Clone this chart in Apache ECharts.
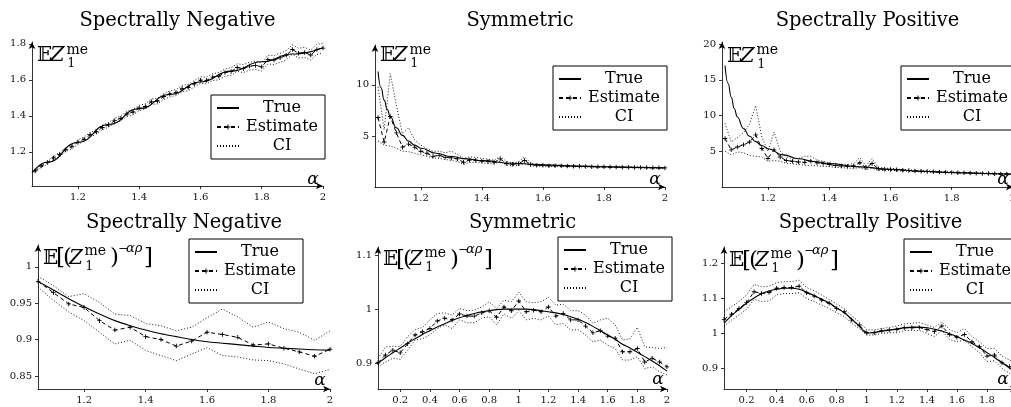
<!DOCTYPE html>
<html>
<head>
<meta charset="utf-8">
<script src="https://cdn.jsdelivr.net/npm/echarts@6.0.0/dist/echarts.min.js"></script>
<style>
html,body{margin:0;padding:0;background:#fff;}
#chart{width:1011px;height:407px;}
</style>
</head>
<body>
<div id="chart"></div>
<script>
// ---------------- data ----------------
const titles = ['Spectrally Negative', 'Symmetric', 'Spectrally Positive'];
const legendNames = ['True', 'Estimate', 'CI'];

// top row alpha grid (estimates / CI)
const alphaTop = [1.06,1.08,1.10,1.12,1.14,1.16,1.18,1.20,1.22,1.24,1.26,1.28,1.30,1.32,1.34,1.36,1.38,1.40,1.42,1.44,1.46,1.48,1.50,1.52,1.54,1.56,1.58,1.60,1.62,1.64,1.66,1.68,1.70,1.72,1.74,1.76,1.78,1.80,1.82,1.84,1.86,1.88,1.90,1.92,1.94,1.96,1.98,2.00];

// Panel 1: E Z, spectrally negative
const p1TrueAlpha = [1.05,1.1,1.2,1.3,1.4,1.5,1.6,1.7,1.8,1.9,2.0];
const p1True = [1.083,1.142,1.252,1.352,1.440,1.518,1.588,1.648,1.700,1.743,1.778];
const p1Est = [1.093,1.121,1.140,1.166,1.185,1.211,1.229,1.254,1.270,1.295,1.311,1.335,1.350,1.373,1.386,1.410,1.421,1.443,1.452,1.478,1.482,1.507,1.522,1.529,1.551,1.557,1.578,1.598,1.597,1.615,1.620,1.640,1.646,1.668,1.662,1.676,1.680,1.672,1.712,1.710,1.722,1.736,1.768,1.748,1.752,1.738,1.769,1.776];
const p1Hi = [1.100,1.128,1.149,1.175,1.196,1.222,1.240,1.266,1.282,1.307,1.324,1.348,1.363,1.386,1.400,1.424,1.436,1.458,1.467,1.493,1.498,1.523,1.538,1.546,1.568,1.575,1.596,1.616,1.616,1.634,1.640,1.660,1.667,1.689,1.684,1.698,1.703,1.696,1.736,1.735,1.747,1.762,1.794,1.775,1.780,1.766,1.797,1.804];
const p1Lo = [1.086,1.114,1.131,1.157,1.174,1.200,1.218,1.242,1.258,1.283,1.298,1.322,1.337,1.360,1.372,1.396,1.406,1.428,1.437,1.463,1.466,1.491,1.506,1.512,1.534,1.539,1.560,1.580,1.578,1.596,1.600,1.620,1.625,1.647,1.640,1.654,1.657,1.648,1.688,1.685,1.697,1.710,1.742,1.721,1.724,1.710,1.741,1.748];

// Panel 2: E Z, symmetric
const p2TrueAlpha = [1.06,1.07,1.08,1.09,1.10,1.12,1.14,1.16,1.18,1.20,1.25,1.30,1.35,1.40,1.50,1.60,1.70,1.80,1.90,2.00];
const p2True = [11.3,9.7,8.5,7.6,6.9,5.8,5.05,4.5,4.1,3.8,3.3,2.98,2.75,2.58,2.33,2.17,2.06,1.98,1.92,1.87];
const p2Est = [6.8,4.4,6.9,5.3,3.9,4.2,3.9,3.5,3.3,3.0,3.1,2.9,2.85,2.75,2.42,2.65,2.62,2.55,2.5,2.42,2.75,2.3,2.22,2.28,2.6,2.2,2.12,2.12,2.08,2.07,2.07,2.05,2.04,2.02,2.01,1.99,1.98,1.97,1.96,1.95,1.94,1.93,1.92,1.91,1.9,1.89,1.88,1.87];
const p2Hi = [9.8,5.6,11.1,8.0,5.2,5.8,4.6,4.1,3.75,3.5,3.5,3.35,3.5,3.2,2.8,2.95,2.9,2.8,2.72,2.62,3.0,2.5,2.38,2.45,2.95,2.35,2.22,2.2,2.16,2.14,2.13,2.11,2.09,2.07,2.06,2.04,2.03,2.02,2.0,1.99,1.98,1.97,1.96,1.95,1.94,1.93,1.92,1.91];
const p2Lo = [4.5,4.1,4.0,3.8,3.5,3.45,3.3,3.15,3.0,2.85,2.8,2.7,2.6,2.5,2.2,2.4,2.42,2.35,2.3,2.25,2.5,2.15,2.08,2.12,2.3,2.06,2.02,2.04,2.0,2.0,2.0,1.99,1.98,1.97,1.96,1.94,1.93,1.92,1.91,1.9,1.89,1.88,1.87,1.86,1.86,1.85,1.84,1.83];

// Panel 3: E Z, spectrally positive
const p3TrueAlpha = [1.06,1.07,1.08,1.09,1.10,1.12,1.14,1.16,1.18,1.20,1.25,1.30,1.35,1.40,1.50,1.60,1.70,1.80,1.90,2.00];
const p3True = [17.0,14.5,12.6,11.0,9.8,8.2,7.1,6.35,5.8,5.35,4.5,3.95,3.58,3.28,2.82,2.47,2.2,2.02,1.9,1.78];
const p3Est = [6.8,5.2,5.6,5.9,6.3,7.3,5.4,4.0,5.2,4.2,3.7,3.6,3.5,3.45,3.6,3.4,3.3,3.15,3.0,2.95,2.9,2.95,3.4,2.7,3.3,2.55,2.5,2.45,2.4,2.35,2.3,2.25,2.2,2.17,2.14,2.1,2.07,2.04,2.0,1.98,1.96,1.93,1.9,1.88,1.85,1.83,1.81,1.78];
const p3Hi = [8.9,6.3,6.9,7.6,8.8,11.4,7.0,5.0,7.7,5.0,4.2,4.0,4.0,4.3,4.3,3.8,3.6,3.4,3.25,3.15,3.1,3.3,4.1,2.95,4.0,2.75,2.65,2.6,2.52,2.45,2.4,2.35,2.3,2.26,2.22,2.18,2.15,2.12,2.08,2.05,2.03,2.0,1.97,1.95,1.92,1.9,1.88,1.85];
const p3Lo = [5.0,4.5,4.9,4.8,4.4,4.3,4.2,3.6,3.7,3.6,3.3,3.25,3.15,3.05,3.05,2.95,2.9,2.85,2.75,2.7,2.65,2.6,2.7,2.45,2.6,2.35,2.33,2.3,2.27,2.23,2.2,2.15,2.12,2.08,2.05,2.02,2.0,1.97,1.94,1.92,1.9,1.88,1.85,1.83,1.8,1.78,1.76,1.73];

// Panel 4: E[(Z)^-alpha rho], spectrally negative
const alphaB1 = [1.05,1.10,1.15,1.20,1.25,1.30,1.35,1.40,1.45,1.50,1.55,1.60,1.65,1.70,1.75,1.80,1.85,1.90,1.95,2.00];
const p4True = [0.980,0.968,0.956,0.945,0.935,0.926,0.919,0.913,0.908,0.904,0.900,0.897,0.895,0.893,0.891,0.889,0.888,0.887,0.886,0.8855];
const p4Est = [0.980,0.9645,0.949,0.944,0.926,0.913,0.917,0.904,0.900,0.891,0.898,0.910,0.907,0.903,0.8925,0.894,0.888,0.883,0.877,0.8866];
const p4Hi = [0.987,0.974,0.959,0.963,0.951,0.935,0.933,0.922,0.919,0.912,0.917,0.930,0.942,0.931,0.917,0.924,0.915,0.910,0.899,0.912];
const p4Lo = [0.972,0.954,0.938,0.926,0.910,0.894,0.899,0.885,0.878,0.871,0.880,0.889,0.878,0.876,0.872,0.871,0.8665,0.8595,0.853,0.859];

// Panels 5, 6 alpha grid
const alphaB2 = [0.05,0.10,0.15,0.20,0.25,0.30,0.35,0.40,0.45,0.50,0.55,0.60,0.65,0.70,0.75,0.80,0.85,0.90,0.95,1.00,1.05,1.10,1.15,1.20,1.25,1.30,1.35,1.40,1.45,1.50,1.55,1.60,1.65,1.70,1.75,1.80,1.85,1.90,1.95,2.00];

// Panel 5: symmetric
const p5True = [0.900,0.910,0.919,0.928,0.937,0.945,0.953,0.960,0.967,0.973,0.979,0.984,0.988,0.992,0.995,0.997,0.999,1.000,1.000,1.000,1.000,0.999,0.997,0.995,0.993,0.990,0.986,0.981,0.975,0.968,0.960,0.952,0.944,0.935,0.928,0.920,0.912,0.904,0.895,0.885];
const p5Est = [0.9006,0.915,0.924,0.919,0.936,0.952,0.958,0.964,0.978,0.983,0.980,0.991,0.987,0.987,0.993,0.997,0.985,1.004,0.997,1.015,0.995,0.998,0.995,1.004,0.987,0.992,0.980,0.980,0.9685,0.956,0.960,0.950,0.946,0.921,0.921,0.927,0.902,0.909,0.902,0.893];
const p5Hi = [0.908,0.930,0.931,0.931,0.949,0.962,0.966,0.980,0.992,0.993,0.989,1.001,0.997,0.998,1.004,1.0135,1.001,1.0167,1.0135,1.031,1.0135,1.0117,1.0135,1.0216,1.0074,1.009,0.997,0.997,0.989,0.9735,0.980,0.983,0.971,0.9426,0.945,0.966,0.930,0.929,0.927,0.929];
const p5Lo = [0.893,0.902,0.909,0.907,0.924,0.9426,0.945,0.952,0.964,0.971,0.964,0.980,0.9747,0.9747,0.983,0.986,0.971,0.991,0.983,0.997,0.980,0.983,0.980,0.987,0.971,0.9735,0.961,0.962,0.952,0.9395,0.9426,0.933,0.927,0.9056,0.9056,0.912,0.890,0.893,0.884,0.878];

// Panel 6: spectrally positive
const p6True = [1.028,1.050,1.068,1.085,1.100,1.112,1.120,1.125,1.128,1.128,1.125,1.117,1.107,1.097,1.086,1.072,1.058,1.040,1.020,1.000,1.002,1.005,1.008,1.012,1.015,1.017,1.017,1.015,1.011,1.006,0.998,0.990,0.980,0.970,0.958,0.944,0.930,0.915,0.900,0.885];
const p6Est = [1.039,1.054,1.070,1.087,1.118,1.113,1.116,1.128,1.130,1.130,1.134,1.115,1.106,1.094,1.085,1.070,1.061,1.037,1.023,1.001,1.001,1.007,1.009,1.010,1.015,1.015,1.016,1.010,1.004,1.020,0.996,0.988,0.996,0.975,0.961,0.934,0.937,0.915,0.904,0.890];
const p6Hi = [1.061,1.075,1.090,1.109,1.139,1.132,1.134,1.144,1.147,1.147,1.151,1.130,1.121,1.109,1.096,1.083,1.070,1.049,1.032,1.009,1.009,1.013,1.016,1.020,1.026,1.028,1.030,1.023,1.016,1.032,1.010,1.001,1.013,0.990,0.975,0.956,0.956,0.934,0.923,0.910];
const p6Lo = [1.020,1.037,1.051,1.068,1.096,1.090,1.092,1.109,1.113,1.113,1.115,1.099,1.090,1.080,1.070,1.058,1.047,1.028,1.013,0.994,0.994,0.999,1.001,1.001,1.007,1.007,1.007,0.999,0.990,1.007,0.982,0.975,0.980,0.961,0.944,0.918,0.921,0.899,0.885,0.870];

// tick values
const xTicksA = [1.2,1.4,1.6,1.8,2];
const xTicksB = [0.2,0.4,0.6,0.8,1,1.2,1.4,1.6,1.8,2];
const yTicks1 = [1.2,1.4,1.6,1.8];
const yTicks2 = [5,10];
const yTicks3 = [5,10,15,20];
const yTicks4 = [0.85,0.9,0.95,1];
const yTicks5 = [0.9,1,1.1];
const yTicks6 = [0.9,1,1.1,1.2];

// ---------------- layout ----------------
const SERIF = 'DejaVu Serif';
const panels = [
  {title:titles[0], grid:{left:32,top:42,width:291,height:144}, x:[1.05,2], y:[1.01,1.81], xt:xTicksA, yt:yTicks1,
   tA:p1TrueAlpha, tV:p1True, eA:alphaTop, est:p1Est, hi:p1Hi, lo:p1Lo, legend:[211,95], titleY:10.5, row:0, smooth:true},
  {title:titles[1], grid:{left:375,top:45,width:290,height:142}, x:[1.05,2], y:[0,13.9], xt:xTicksA, yt:yTicks2,
   tA:p2TrueAlpha, tV:p2True, eA:alphaTop, est:p2Est, hi:p2Hi, lo:p2Lo, legend:[553,66], titleY:10.5, row:0, smooth:true},
  {title:titles[2], grid:{left:722,top:42,width:291,height:145}, x:[1.05,2], y:[0,20.3], xt:xTicksA, yt:yTicks3,
   tA:p3TrueAlpha, tV:p3True, eA:alphaTop, est:p3Est, hi:p3Hi, lo:p3Lo, legend:[901,66], titleY:10.5, row:0, smooth:true},
  {title:titles[0], grid:{left:38,top:245,width:292,height:144}, x:[1.05,2], y:[0.832,1.03], xt:xTicksA, yt:yTicks4,
   tA:alphaB1, tV:p4True, eA:alphaB1, est:p4Est, hi:p4Hi, lo:p4Lo, legend:[189,239], titleY:212.5, row:1, smooth:0.3},
  {title:titles[1], grid:{left:378,top:247,width:289,height:142}, x:[0.05,2], y:[0.852,1.115], xt:xTicksB, yt:yTicks5,
   tA:alphaB2, tV:p5True, eA:alphaB2, est:p5Est, hi:p5Hi, lo:p5Lo, legend:[558,237], titleY:212.5, row:1, smooth:0.3},
  {title:titles[2], grid:{left:724,top:247,width:293,height:142}, x:[0.05,2], y:[0.84,1.246], xt:xTicksB, yt:yTicks6,
   tA:alphaB2, tV:p6True, eA:alphaB2, est:p6Est, hi:p6Hi, lo:p6Lo, legend:[904,239], titleY:212.5, row:1, smooth:0.3}
];
const labelY = [56, 56, 56.5, 258.5, 260, 261];
const alphaPos = [[313,180],[655,180],[1003,180],[320,381],[658,380],[1003,380]];

const zip = (a, b) => a.map((v, i) => [v, b[i]]);
const PLUS = 'path://M4,0H6V4H10V6H6V10H4V6H0V4H4Z';

const option = {
  backgroundColor:'#fff',
  animation:false,
  title: panels.map(p => ({
    text:p.title, left:p.grid.left + p.grid.width/2, top:p.titleY, textAlign:'center', padding:0,
    textStyle:{fontFamily:SERIF, fontSize:19.5, fontWeight:'normal', color:'#000', lineHeight:20}
  })),
  grid: panels.map(p => Object.assign({outerBoundsMode:'none', containLabel:false}, p.grid)),
  legend: panels.map(p => ({
    data:[
      {name:legendNames[0], itemStyle:{opacity:0}},
      {name:legendNames[1]},
      {name:legendNames[2], itemStyle:{opacity:0}}
    ],
    left:p.legend[0], top:p.legend[1], orient:'vertical',
    backgroundColor:'#fff', borderColor:'#000', borderWidth:1, borderRadius:0,
    padding:[5,5,5,5], itemWidth:22, itemHeight:6, itemGap:3, selectedMode:false,
    formatter:'{c|{name}}',
    textStyle:{fontFamily:SERIF, fontSize:16, color:'#000', lineHeight:16,
      rich:{c:{width:76, align:'center', fontFamily:SERIF, fontSize:16, lineHeight:16, color:'#000'}}}
  })),
  xAxis: panels.map((p,i) => ({
    type:'value', gridIndex:i, min:p.x[0], max:p.x[1],
    axisLine:{show:true, onZero:false, symbol:['none','arrow'], symbolSize:[5,7], lineStyle:{color:'#000', width:0.8}},
    axisTick:{show:true, customValues:p.xt, length:3, lineStyle:{color:'#000', width:0.8}},
    axisLabel:{customValues:p.xt, margin:6, fontFamily:SERIF, fontSize:10, color:'#111'},
    splitLine:{show:false}
  })),
  yAxis: panels.map((p,i) => ({
    type:'value', gridIndex:i, min:p.y[0], max:p.y[1],
    axisLine:{show:true, onZero:false, symbol:['none','arrow'], symbolSize:[5,7], lineStyle:{color:'#000', width:0.8}},
    axisTick:{show:true, customValues:p.yt, length:3, lineStyle:{color:'#000', width:0.8}},
    axisLabel:{customValues:p.yt, margin:6, fontFamily:SERIF, fontSize:10, color:'#111'},
    splitLine:{show:false}
  })),
  series: [],
  graphic: []
};

panels.forEach((p,i) => {
  const common = {type:'line', xAxisIndex:i, yAxisIndex:i, silent:true, emphasis:{disabled:true}};
  option.series.push(Object.assign({}, common, {
    name:'True', data:zip(p.tA, p.tV), symbol:'none', smooth:p.smooth, smoothMonotone: p.row===0 ? 'x' : undefined,
    lineStyle:{color:'#000', width:1.1, type:'solid'}, itemStyle:{color:'#000'}, z:4
  }));
  option.series.push(Object.assign({}, common, {
    name:'Estimate', data:zip(p.eA, p.est), symbol:PLUS, symbolSize:4.5, showSymbol:true,
    lineStyle:{color:'#000', width:1, type:[4,3]}, itemStyle:{color:'#000'}, z:3
  }));
  option.series.push(Object.assign({}, common, {
    name:'CI', data:zip(p.eA, p.hi), symbol:'none',
    lineStyle:{color:'#000', width:0.9, type:[1,2]}, itemStyle:{color:'#000'}, z:2
  }));
  option.series.push(Object.assign({}, common, {
    name:'CI', data:zip(p.eA, p.lo), symbol:'none',
    lineStyle:{color:'#000', width:0.9, type:[1,2]}, itemStyle:{color:'#000'}, z:2
  }));

  const x0 = p.grid.left;
  const yc = labelY[i];
  const T = (text, x, y, size, extra) => ({
    type:'text', x:x, y:y, z:100, silent:true,
    style:Object.assign({text:text, fontFamily:SERIF, fontSize:size, fill:'#000', align:'left', verticalAlign:'middle'}, extra||{})
  });
  if (p.row === 0) {
    option.graphic.push(T('𝔼', x0+5, yc, 20));
    option.graphic.push(T('Z', x0+18, yc, 21, {fontStyle:'italic'}));
    option.graphic.push(T('me', x0+34.5, yc-6, 14));
    option.graphic.push(T('1', x0+35.5, yc+8, 12));
  } else {
    option.graphic.push(T('𝔼', x0+5, yc, 20));
    option.graphic.push(T('[', x0+18, yc, 23));
    option.graphic.push(T('(', x0+25, yc, 23));
    option.graphic.push(T('Z', x0+31, yc, 20, {fontStyle:'italic'}));
    option.graphic.push(T('me', x0+46.5, yc-7, 14));
    option.graphic.push(T('1', x0+47.5, yc+8, 12));
    option.graphic.push(T(')', x0+72, yc, 23));
    option.graphic.push(T('−', x0+80, yc-10, 12));
    option.graphic.push(T('αρ', x0+88, yc-10, 13, {fontStyle:'italic'}));
    option.graphic.push(T(']', x0+106, yc, 23));
  }
  option.graphic.push(T('α', alphaPos[i][0], alphaPos[i][1], 17, {fontStyle:'italic', align:'center'}));
});

const chart = echarts.init(document.getElementById('chart'), null, {renderer:'canvas'});
chart.setOption(option);
</script>
</body>
</html>
